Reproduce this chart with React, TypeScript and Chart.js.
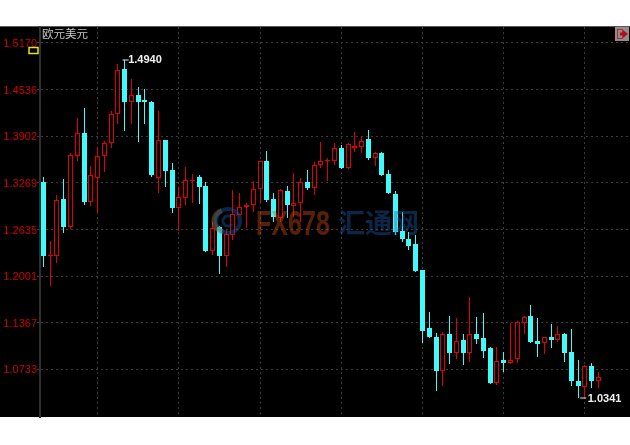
import React, { useEffect, useRef } from "react";
import { Chart, registerables } from "chart.js";

Chart.register(...registerables);

const opens = [1.3283,1.2272,1.2276,1.3048,1.2667,1.3637,1.3946,1.3011,1.3333,1.3633,1.3809,1.4204,1.4816,1.4371,1.4467,1.4390,1.4371,1.3337,1.3850,1.3442,1.2929,1.3065,1.3299,1.3347,1.3225,1.2344,1.2671,1.2272,1.2558,1.2830,1.2939,1.2966,1.3184,1.3565,1.3048,1.2793,1.3156,1.2956,1.2997,1.3283,1.3197,1.3510,1.3565,1.3569,1.3741,1.3469,1.3741,1.3759,1.3864,1.3610,1.3678,1.3388,1.3116,1.2616,1.2503,1.2435,1.2082,1.1293,1.1170,1.0708,1.1211,1.0952,1.1133,1.0952,1.1211,1.1157,1.1020,1.0548,1.0857,1.0816,1.0871,1.1365,1.1456,1.1120,1.1088,1.1170,1.1133,1.1221,1.0966,1.0581,1.0494,1.0776,1.0576];
const closes = [1.2272,1.2286,1.3034,1.2663,1.3646,1.3946,1.3011,1.3374,1.3633,1.3809,1.4204,1.4803,1.4371,1.4467,1.4371,1.4363,1.3374,1.3850,1.3429,1.2929,1.3075,1.3306,1.3313,1.3215,1.2340,1.2653,1.2272,1.2571,1.2844,1.2939,1.2966,1.3184,1.3565,1.3034,1.2803,1.3170,1.2966,1.2993,1.3279,1.3201,1.3510,1.3569,1.3578,1.3741,1.3469,1.3796,1.3769,1.3841,1.3605,1.3678,1.3374,1.3129,1.2603,1.2503,1.2412,1.2068,1.1256,1.1170,1.0708,1.1211,1.0957,1.1120,1.0957,1.1211,1.1147,1.0984,1.0544,1.0844,1.0816,1.0857,1.1374,1.1442,1.1106,1.1075,1.1170,1.1133,1.1215,1.0957,1.0576,1.0504,1.0776,1.0576,1.0626];
const highs = [1.3343,1.2476,1.3102,1.3320,1.3673,1.4150,1.4286,1.3501,1.3759,1.3841,1.4245,1.4884,1.4940,1.4680,1.4575,1.4544,1.4375,1.4245,1.3857,1.3537,1.3215,1.3483,1.3388,1.3374,1.3279,1.2739,1.2680,1.2626,1.3170,1.3129,1.2997,1.3293,1.3570,1.3701,1.3129,1.3184,1.3225,1.3405,1.3333,1.3442,1.3555,1.3823,1.3605,1.3809,1.3782,1.3805,1.3959,1.3891,1.3986,1.3691,1.3691,1.3442,1.3156,1.2875,1.2599,1.2558,1.2088,1.1514,1.1225,1.1242,1.1456,1.1429,1.1211,1.1714,1.1446,1.1497,1.1034,1.1038,1.0966,1.1361,1.1392,1.1456,1.1606,1.1429,1.1177,1.1347,1.1320,1.1225,1.1279,1.0857,1.0789,1.0816,1.0698];
const lows = [1.2127,1.1864,1.2177,1.2585,1.2639,1.3565,1.2966,1.2956,1.2861,1.3419,1.3746,1.4068,1.3973,1.4068,1.3827,1.4068,1.3351,1.3133,1.3211,1.2857,1.2616,1.2966,1.2993,1.2980,1.2327,1.2286,1.2027,1.2122,1.2490,1.2830,1.2657,1.2871,1.2993,1.3007,1.2735,1.2739,1.2789,1.2807,1.2739,1.3170,1.3102,1.3473,1.3293,1.3510,1.3462,1.3462,1.3691,1.3673,1.3578,1.3497,1.3361,1.3122,1.2558,1.2467,1.2354,1.2061,1.1093,1.1163,1.0440,1.0504,1.0803,1.0875,1.0789,1.0834,1.1075,1.0889,1.0537,1.0517,1.0694,1.0809,1.0821,1.1211,1.1093,1.0902,1.0939,1.1025,1.1106,1.0834,1.0504,1.0341,1.0345,1.0480,1.0480];

const yTicks = [1.5170,1.4536,1.3902,1.3269,1.2635,1.2001,1.1367,1.0733];
const slotCount = 87;
const categories = Array.from({ length: slotCount }, (_, i) => String(i));
const gridIndexes = [8,20,32,44,56,68,80];
const title = "欧元美元";
const extremes = [
  { index: 12, value: 1.4940, label: "1.4940" },
  { index: 79, value: 1.0341, label: "1.0341" },
];

const CYAN = "#40fbfb";
const RED = "#e00000";
const BLACK = "#000000";

const isUp = (i: number) => closes[i] >= opens[i];

const snapPlugin = {
  id: "snap",
  beforeDatasetsDraw(chart: any) {
    chart.getSortedVisibleDatasetMetas().forEach((meta: any) => {
      meta.data.forEach((el: any) => {
        el.x = Math.round(el.x - 0.5) + 0.5;
        el.y = Math.round(el.y);
        el.base = Math.round(el.base);
        if (el.base === el.y) el.base = el.y + 1;
      });
    });
  },
};

const framePlugin = {
  id: "frame",
  beforeDraw(chart: any) {
    const c = chart.ctx;
    c.save();
    c.fillStyle = "#ffffff";
    c.fillRect(0, 0, 630, 445);
    c.fillStyle = BLACK;
    c.fillRect(0, 26, 630, 391);
    c.fillStyle = "#5a5a5a";
    c.fillRect(0, 26, 630, 1);
    c.restore();
  },
  afterDatasetsDraw(chart: any) {
    const c = chart.ctx;
    const xs = chart.scales.x;
    const ys = chart.scales.y;
    c.save();
    // watermark, translucent over the candles
    c.globalAlpha = 0.4;
    c.lineWidth = 5;
    c.strokeStyle = "#b88a28";
    c.beginPath();
    c.arc(225, 221, 11, Math.PI * 0.55, Math.PI * 1.4);
    c.stroke();
    c.lineWidth = 4;
    c.strokeStyle = "#1d5fae";
    c.beginPath();
    c.arc(228, 221, 12, 0, Math.PI * 2);
    c.stroke();
    c.lineWidth = 3;
    c.beginPath();
    c.arc(228, 221, 5, Math.PI * 0.2, Math.PI * 1.7);
    c.stroke();
    c.textAlign = "left";
    c.textBaseline = "alphabetic";
    c.font = 'bold 35px "Liberation Sans"';
    const g = c.createLinearGradient(256, 0, 330, 0);
    g.addColorStop(0, "#b88a28");
    g.addColorStop(0.5, "#c46e1a");
    g.addColorStop(1, "#e05010");
    c.fillStyle = g;
    c.fillText("FX678", 256, 235, 74);
    c.font = 'bold 27px "Noto Sans CJK SC"';
    c.fillStyle = "#1d5fae";
    c.fillText("汇通网", 338, 233, 81);
    c.globalAlpha = 1;
    // title
    c.font = '11.5px "Noto Sans CJK SC"';
    c.fillStyle = "#c4c4c4";
    c.textBaseline = "middle";
    c.fillText(title, 42, 33.5);
    // high and low labels
    c.font = 'bold 11px "Liberation Sans"';
    for (const e of extremes) {
      const x = xs.getPixelForValue(e.index);
      const y = ys.getPixelForValue(e.value);
      c.fillStyle = "#e8e8e8";
      c.fillRect(x - 2 + (e.index === 79 ? 4 : 0), Math.round(y) - 0.5, 6, 1);
      c.fillStyle = "#f0f0f0";
      c.fillText(e.label, x + (e.index === 79 ? 9.5 : 3.5), y + 0.5);
    }
    // current-price marker and exit icon
    c.strokeStyle = "#e8e020";
    c.lineWidth = 1.5;
    c.strokeRect(29, 47.5, 9, 6);
    c.fillStyle = "#8e8e8e";
    c.fillRect(615, 27, 14, 14);
    c.strokeStyle = "#c82030";
    c.lineWidth = 1;
    c.strokeRect(617.5, 29.5, 5, 9);
    c.fillStyle = "#b01018";
    c.beginPath();
    c.moveTo(620, 32.5);
    c.lineTo(623, 32.5);
    c.lineTo(623, 30);
    c.lineTo(628, 34);
    c.lineTo(623, 38);
    c.lineTo(623, 35.5);
    c.lineTo(620, 35.5);
    c.closePath();
    c.fill();
    c.restore();
  },
};

export default function App() {
  const ref = useRef<HTMLCanvasElement | null>(null);
  useEffect(() => {
    if (!ref.current) return;
    const n = opens.length;
    const idx = Array.from({ length: n }, (_, i) => i);
    const chart = new Chart(ref.current, {
      type: "bar",
      data: {
        labels: categories,
        datasets: [
          {
            label: "body",
            order: 0,
            grouped: false,
            barThickness: 5,
            borderWidth: 1,
            borderSkipped: false,
            inflateAmount: 0,
            data: idx.map((i) => [opens[i], closes[i]]),
            backgroundColor: idx.map((i) => (isUp(i) ? BLACK : CYAN)),
            borderColor: idx.map((i) => (isUp(i) ? RED : CYAN)),
          },
          {
            label: "wick",
            order: 1,
            grouped: false,
            barThickness: 1,
            borderWidth: 0,
            inflateAmount: 0,
            data: idx.map((i) => [lows[i], highs[i]]),
            backgroundColor: idx.map((i) => (isUp(i) ? RED : CYAN)),
          },
        ],
      } as any,
      options: {
        animation: false,
        responsive: false,
        maintainAspectRatio: false,
        layout: { padding: { top: 27, bottom: 28, left: 0, right: 1 } },
        plugins: { legend: { display: false }, tooltip: { enabled: false }, title: { display: false } },
        scales: {
          x: {
            type: "category",
            offset: true,
            afterFit(s: any) { s.height = 0; },
            afterBuildTicks(s: any) {
              s.ticks = gridIndexes.map((v) => ({ value: v }));
            },
            grid: { offset: false, color: "#3c3c3c", drawTicks: false },
            border: { display: false, dash: [2, 3] },
            ticks: { display: false, autoSkip: false },
          },
          y: {
            type: "linear",
            min: 1.0087,
            max: 1.5386,
            afterFit(s: any) { s.width = 40; },
            afterBuildTicks(s: any) {
              s.ticks = yTicks.map((v) => ({ value: v }));
            },
            grid: { color: "#3c3c3c", drawTicks: true, tickLength: 3, tickColor: "#3c3c3c" },
            border: { display: true, color: "#303030", width: 2, dash: [2, 3] },
            ticks: {
              autoSkip: false,
              padding: 0,
              labelOffset: 1,
              color: "#d00000",
              font: { family: '"Liberation Sans"', size: 11 },
              callback: (v: any) => Number(v).toFixed(4),
            },
          },
        },
      } as any,
      plugins: [framePlugin, snapPlugin],
    });
    return () => chart.destroy();
  }, []);
  return (
    <div style={{ position: "fixed", left: 0, top: 0, width: 630, height: 445, background: "#fff" }}>
      <canvas ref={ref} width={630} height={445} style={{ display: "block", width: 630, height: 445 }} />
    </div>
  );
}
